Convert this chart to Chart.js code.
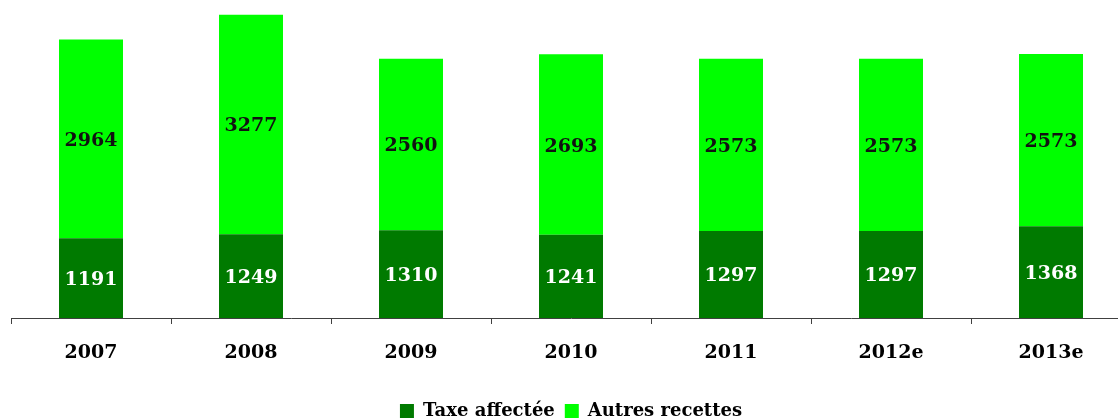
<!DOCTYPE html>
<html>
<head>
<meta charset="utf-8">
<script src="https://cdn.jsdelivr.net/npm/chart.js@4/dist/chart.umd.min.js"></script>
<style>
  html, body { margin: 0; padding: 0; background: #fff; overflow: hidden; }
  #wrap { width: 1141px; height: 430px; }
</style>
</head>
<body>
<div id="wrap"><canvas id="chart" width="1141" height="430"></canvas></div>
<script>
const years = ["2007", "2008", "2009", "2010", "2011", "2012e", "2013e"];
const taxeAffectee = [1191, 1249, 1310, 1241, 1297, 1297, 1368];
const autresRecettes = [2964, 3277, 2560, 2693, 2573, 2573, 2573];

const labelFont = "bold 19px 'DejaVu Serif', serif";

// draws the value in the middle of each segment
const segmentLabels = {
  id: "segmentLabels",
  afterDatasetsDraw(chart) {
    const ctx = chart.ctx;
    ctx.save();
    ctx.font = labelFont;
    ctx.textAlign = "center";
    ctx.textBaseline = "middle";
    chart.data.datasets.forEach((ds, i) => {
      const meta = chart.getDatasetMeta(i);
      ctx.fillStyle = i === 0 ? "#ffffff" : "#111111";
      meta.data.forEach((bar, j) => {
        const mid = (bar.y + bar.base) / 2;
        ctx.fillText(String(ds.data[j]), bar.x, mid + 2);
      });
    });
    ctx.restore();
  }
};

new Chart(document.getElementById("chart").getContext("2d"), {
  type: "bar",
  data: {
    labels: years,
    datasets: [
      { label: "Taxe affectée", data: taxeAffectee, backgroundColor: "#007a00" },
      { label: "Autres recettes", data: autresRecettes, backgroundColor: "#00ff00" }
    ]
  },
  options: {
    responsive: false,
    animation: false,
    layout: { padding: { left: 11, right: 10, top: 0, bottom: 0 } },
    datasets: { bar: { barPercentage: 0.4, categoryPercentage: 1.0 } },
    scales: {
      x: {
        stacked: true,
        border: { display: true, color: "#404040", width: 1 },
        grid: { display: true, drawOnChartArea: false, drawTicks: true, tickLength: 6, color: "#404040", offset: true },
        ticks: { color: "#000", font: { family: "'DejaVu Serif', serif", size: 19, weight: "bold" }, padding: 18 },
        afterFit(scale) { scale.height = 74; }
      },
      y: { stacked: true, display: false, min: 0, max: 4745 }
    },
    plugins: {
      legend: {
        position: "bottom",
        labels: {
          color: "#000",
          boxWidth: 14,
          boxHeight: 14,
          padding: 10,
          font: { family: "'DejaVu Serif', serif", size: 18, weight: "bold" }
        }
      },
      tooltip: { enabled: false }
    }
  },
  plugins: [segmentLabels]
});
</script>
</body>
</html>
